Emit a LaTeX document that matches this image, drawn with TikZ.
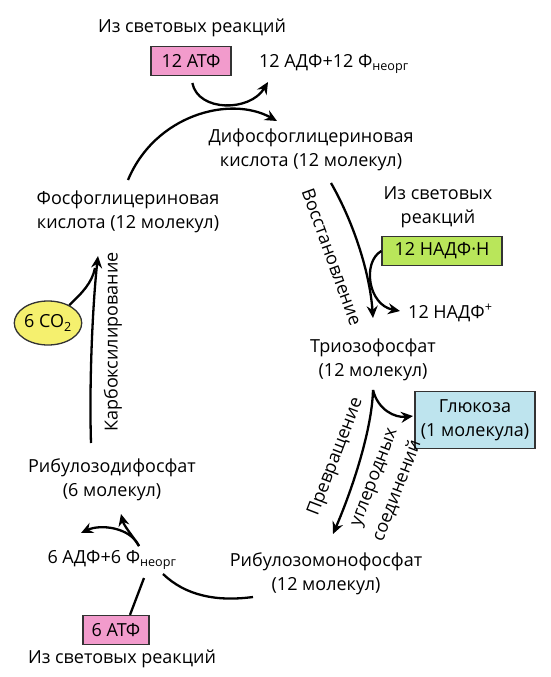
\documentclass[tikz,border=0pt]{standalone}
\usepackage{fontspec}
\setmainfont{Open Sans}
\usetikzlibrary{arrows.meta,shapes.geometric}
\definecolor{atppink}{RGB}{242,155,204}
\definecolor{nadgreen}{RGB}{185,230,90}
\definecolor{glublue}{RGB}{190,228,238}
\definecolor{coyellow}{RGB}{245,240,110}
\begin{document}
\begin{tikzpicture}[x=1pt,y=-1pt,font=\fontsize{18}{23.5}\selectfont,
	box/.style={draw=black!80,line width=1.3pt,inner sep=0pt,align=center,minimum height=29pt},
	txt/.style={align=center,inner sep=0pt},
	lin/.style={line width=2.3pt},
	arr/.style={lin,-{Stealth[length=12pt,width=11pt,inset=4pt]}}]
	\useasboundingbox (0,0) rectangle (550,677);

	%top
	\node[txt] (lightA) at (192,28) {Из световых реакций};
	\node[box,fill=atppink,minimum width=80pt] (atpA) at (191,61) {12 АТФ};
	\node[txt,anchor=west] (adpA) at (259,64) {12 АДФ+12 Ф\textsubscript{неорг}};
	\node[txt] (dpga) at (311,150) {Дифосфоглицериновая\\кислота (12 молекул)};
	\node[txt] (pga) at (128,212) {Фосфоглицериновая\\кислота (12 молекул)};

	%right
	\node[txt] (lightB) at (438,207) {Из световых\\реакций};
	\node[box,fill=nadgreen,minimum width=120pt] (nadph) at (442,251) {12 НАДФ·Н};
	\node[txt,anchor=west] (nadp) at (408,313) {12 НАДФ\textsuperscript{+}};
	\node[txt] (triose) at (373,360) {Триозофосфат\\(12 молекул)};
	\node[box,fill=glublue,minimum width=120pt,minimum height=57pt] (gluc) at (475,420) {Глюкоза\\(1 молекула)};

	%bottom
	\node[txt] (rudp) at (112,480) {Рибулозодифосфат\\(6 молекул)};
	\node[txt] (adpB) at (112,560) {6 АДФ+6 Ф\textsubscript{неорг}};
	\node[txt] (rump) at (326,574) {Рибулозомонофосфат\\(12 молекул)};
	\node[box,fill=atppink,minimum width=66pt] (atpB) at (116,630) {6 АТФ};
	\node[txt] (lightC) at (122,659) {Из световых реакций};

	%left
	\node[ellipse,draw=black!80,line width=1.3pt,fill=coyellow,inner sep=0pt,minimum width=66pt,minimum height=44pt] (co2) at (48,323) {6 CO\textsubscript{2}};

	%process labels
	\node[txt,rotate=-70] (redu) at (332,257) {Восстановление};
	\node[txt,rotate=90] (carb) at (113,342) {Карбоксилирование};
	\node[txt,rotate=69] (conv1) at (336,457) {Превращение};
	\node[txt,rotate=69] (conv2) at (376,478) {углеродных};
	\node[txt,rotate=69] (conv3) at (397,491) {соединений};

	%end points
	\coordinate (adpAin) at (268,82);
	\coordinate (dpgain) at (277,121);
	\coordinate (pgaout) at (128,180);
	\coordinate (dpgaout) at (331,183);
	\coordinate (trioin) at (373,318);
	\coordinate (nadpin) at (400,311);
	\coordinate (trioout) at (373,390);
	\coordinate (glucin) at (413,416);
	\coordinate (rumpin) at (333,534);
	\coordinate (rumpout) at (253,597);
	\coordinate (adpBend) at (163,574);
	\coordinate (atpBend) at (144,578);
	\coordinate (adpBout) at (139,546);
	\coordinate (adpBleft) at (81,533);
	\coordinate (rudpin) at (121,514);
	\coordinate (rudpout) at (91,443);
	\coordinate (pgain) at (98,256);
	\coordinate (co2end) at (95,268);

	%arrows
	\draw[arr,shorten <=7pt] (atpA.south) .. controls (198,112) and (250,112) .. (adpAin);
	\draw[arr] (pgaout) .. controls (155,115) and (230,95) .. (dpgain);
	\draw[arr] (dpgaout) .. controls (355,225) and (370,275) .. (trioin);
	\draw[arr] (nadph.west) .. controls (362,262) and (368,305) .. (nadpin);
	\draw[arr] (trioout) .. controls (372,430) and (352,490) .. (rumpin);
	\draw[arr] (trioout) .. controls (378,410) and (395,418) .. (glucin);
	\draw[lin] (rumpout) .. controls (215,602) and (185,595) .. (adpBend);
	\draw[lin] (atpB.north) ++(14,0) -- (atpBend);
	\draw[arr] (adpBout) .. controls (130,527) and (100,524) .. (adpBleft);
	\draw[arr] (adpBout) .. controls (132,535) and (124,526) .. (rudpin);
	\draw[arr] (rudpout) .. controls (89,380) and (93,300) .. (pgain);
	\draw[lin] (co2.40) .. controls (82,293) and (92,283) .. (co2end);
\end{tikzpicture}
\end{document}
